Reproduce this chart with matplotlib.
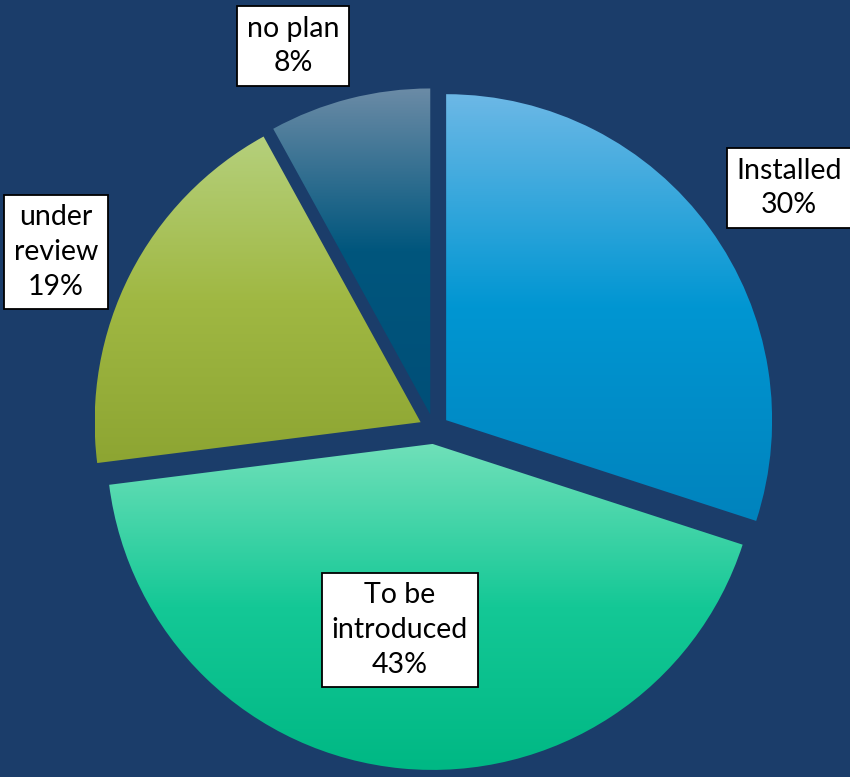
import numpy as np
import matplotlib
matplotlib.use("Agg")
import matplotlib.pyplot as plt
from matplotlib.colors import to_rgb

# data
categories = ["Installed", "To be\nintroduced", "under\nreview", "no plan"]
shares = [30, 43, 19, 8]

# gradient stops per slice: top, middle, bottom
slice_colors = [
    ("#6cb8e6", "#0096d2", "#0083bd"),
    ("#6fe0b9", "#14c896", "#00b884"),
    ("#b5d07c", "#a0b843", "#8da532"),
    ("#6b8ba6", "#00567d", "#004f78"),
]

# label box centres in pixels (x, y from top)
label_pos = [(789, 188), (400, 630), (56, 252), (293, 46)]

W, H = 850, 777
bg = "#1b3d6a"

fig = plt.figure(figsize=(W / 100, H / 100), dpi=100, facecolor=bg)
ax = fig.add_axes([0, 0, 1, 1])
ax.set_facecolor(bg)

center = (434, H - 429)
radius = 326
wedges, _ = ax.pie(shares, startangle=90, counterclock=False,
                   explode=[15] * len(shares), radius=radius, center=center,
                   frame=True)
ax.set_xlim(0, W)
ax.set_ylim(0, H)
ax.set_aspect("equal")
ax.axis("off")


def gradient(stops, n=256):
    c = [np.array(to_rgb(s)) for s in stops]
    t = np.linspace(0, 1, n)[:, None]
    top = c[0] + (c[1] - c[0]) * np.clip(t / 0.5, 0, 1)
    g = np.where(t < 0.5, top, c[1] + (c[2] - c[1]) * np.clip((t - 0.5) / 0.5, 0, 1))
    return g[:, None, :]


for w, cols in zip(wedges, slice_colors):
    w.set_facecolor("none")
    w.set_edgecolor("none")
    ext = w.get_path().get_extents()
    im = ax.imshow(gradient(cols), extent=(ext.x0, ext.x1, ext.y0, ext.y1),
                   origin="upper", aspect="auto", zorder=2, interpolation="bilinear")
    im.set_clip_path(w)

ax.set_xlim(0, W)
ax.set_ylim(0, H)

for name, val, (px, py) in zip(categories, shares, label_pos):
    ax.text(px, H - py, f"{name}\n{val}%", ha="center", va="center",
            fontsize=20.5, family="Lato", linespacing=1.42, color="black", zorder=5,
            bbox=dict(boxstyle="square,pad=0.33", fc="white", ec="black", lw=1.3))

fig.savefig("out.png", dpi=100, facecolor=bg)
